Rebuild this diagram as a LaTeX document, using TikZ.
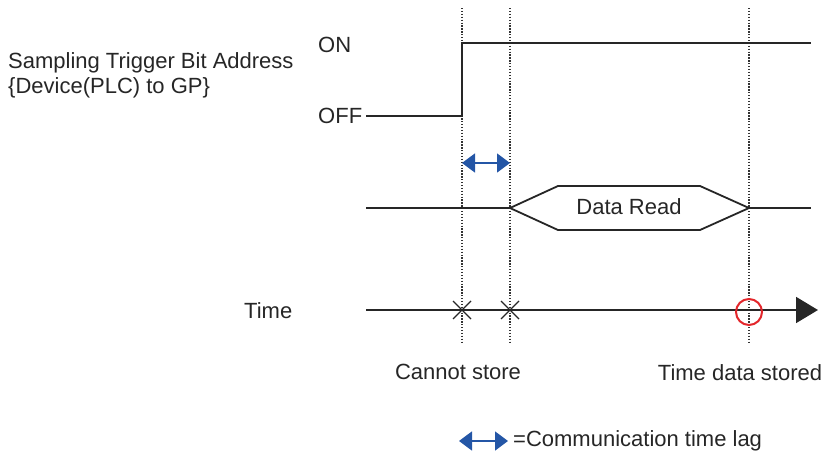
\documentclass[tikz,border=0pt]{standalone}
\usepackage{fontspec}
\setmainfont{Liberation Sans}
\usetikzlibrary{arrows.meta}
\definecolor{lagblue}{HTML}{2456A6}
\definecolor{markred}{HTML}{E3262B}
\begin{document}
\begin{tikzpicture}[x=1pt,y=-1pt,
  txt/.style={inner sep=0pt,font=\fontsize{22}{26}\selectfont,text=black!85},
  sig/.style={line width=2.4pt,black!85},
  thin/.style={line width=1.8pt,black!85},
  guide/.style={line width=1.3pt,dash pattern=on 1.3pt off 1.6pt,black!80},
  lag/.style={line width=1.5pt,lagblue,{Triangle[length=13pt,width=19pt]}-{Triangle[length=13pt,width=19pt]}},
  xmark/.style={line width=1.3pt,black!85}]
\useasboundingbox (0,0) rectangle (825,458);
% guides
\coordinate (g1t) at (462,8); \coordinate (g1b) at (462,342);
\coordinate (g2t) at (510,8); \coordinate (g2b) at (510,342);
\coordinate (g3t) at (749,8); \coordinate (g3b) at (749,342);
\draw[guide] (g1t) -- (g1b);
\draw[guide] (g2t) -- (g2b);
\draw[guide] (g3t) -- (g3b);
% labels
\node[txt,anchor=west] (lab1) at (8,63) {Sampling Trigger Bit Address};
\node[txt,anchor=west] (lab2) at (8,88) {\{Device(PLC) to GP\}};
\node[txt,anchor=west] (on) at (318,45) {ON};
\node[txt,anchor=west] (off) at (318,116) {OFF};
% trigger signal
\coordinate (s0) at (366,116);
\coordinate (s1) at (462,116);
\coordinate (s2) at (462,43);
\coordinate (s3) at (811,43);
\draw[sig] (s0) -- (s1) -- (s2) -- (s3);
% communication lag
\coordinate (la) at (462,163);
\coordinate (lb) at (510,163);
\draw[lag] (la) -- (lb);
% data read
\coordinate (d0) at (366,208);
\coordinate (d1) at (510,208);
\coordinate (d2) at (558,186);
\coordinate (d3) at (700,186);
\coordinate (d4) at (749,208);
\coordinate (d5) at (700,230);
\coordinate (d6) at (558,230);
\coordinate (d7) at (811,208);
\draw[thin] (d0) -- (d1);
\draw[thin] (d1) -- (d2) -- (d3) -- (d4) -- (d5) -- (d6) -- cycle;
\draw[thin] (d4) -- (d7);
\node[txt] (dr) at (629,207) {Data Read};
% time axis
\node[txt,anchor=west] (time) at (244,311) {Time};
\coordinate (t0) at (366,310);
\coordinate (t1) at (818,310);
\draw[thin,-{Triangle[length=22pt,width=26pt]}] (t0) -- (t1);
\draw[xmark] (453,301) -- (471,319) (453,319) -- (471,301);
\draw[xmark] (501,301) -- (519,319) (501,319) -- (519,301);
\node[draw=markred,line width=2pt,circle,minimum size=26pt,inner sep=0pt] (stored) at (749,312) {};
\node[txt] (cs) at (458,372) {Cannot store};
\node[txt] (tds) at (740,373) {Time data stored};
% legend
\coordinate (ka) at (459,441);
\coordinate (kb) at (508,441);
\draw[lag] (ka) -- (kb);
\node[txt,anchor=west] (leg) at (513,441) {=Communication time lag};
\end{tikzpicture}
\end{document}
